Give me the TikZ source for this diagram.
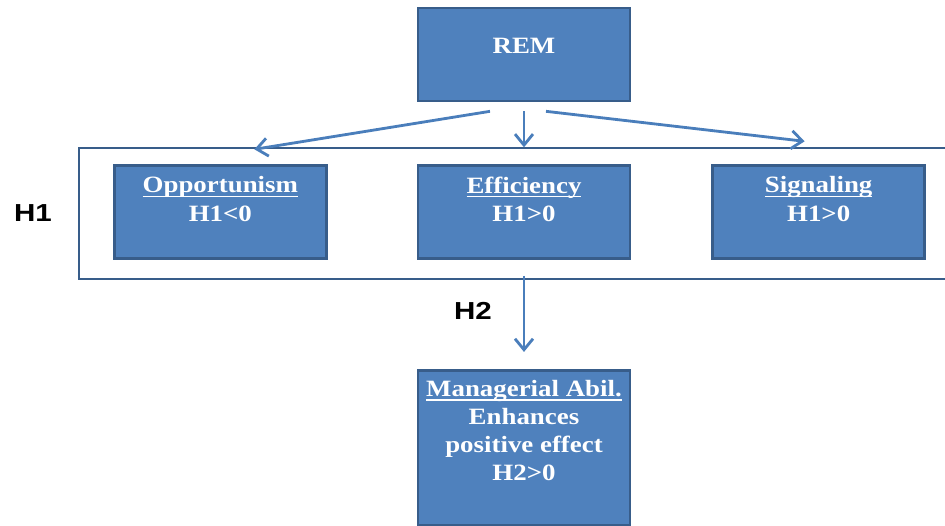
\documentclass[tikz,border=0pt]{standalone}
\usepackage{fontspec}
\usepackage{xcolor}
\definecolor{boxblue}{RGB}{79,129,189}
\definecolor{edgeblue}{RGB}{56,93,138}
\definecolor{arrowblue}{RGB}{74,126,187}
\newfontfamily\boxfont[FakeStretch=1.15]{Liberation Serif}
\newfontfamily\hypfont[FakeStretch=1.2]{Liberation Sans}
\newcommand{\undl}[1]{\setbox0\hbox{#1}\rlap{\rule[-2.4pt]{\wd0}{0.9pt}}\box0}
\usepackage{tikz}
\usetikzlibrary{arrows.meta}
\usetikzlibrary{positioning}

\begin{document}
\begin{tikzpicture}[box/.style={draw=edgeblue, line width=1.5pt, fill=boxblue, minimum width=4.24cm, minimum height=1.86cm, inner sep=0pt},
			txt/.style={text=white, font=\boxfont\bfseries\fontsize{13.3}{16}\selectfont, align=center, anchor=north, inner sep=0pt},
			hyp/.style={font=\hypfont\bfseries\fontsize{14}{16}\selectfont, inner sep=0pt},
			arr/.style={draw=arrowblue, line width=1.6pt, -{Straight Barb[length=2.2mm,width=3.6mm]}},
			]
			\clip (0,0) rectangle (18.9,-10.5);
			\node [draw=edgeblue, line width=1.3pt, minimum width=17.82cm, minimum height=2.62cm] (h1frame) at (10.49,-4.27) {};
			\node [box] (rem) at (10.48,-1.09) {};
			\node [box, below=1.24cm of rem] (eff) {};
			\node [box, left=1.78cm of eff] (opp) {};
			\node [box, right=1.6cm of eff] (sig) {};
			\node [box, below=2.18cm of eff, minimum height=3.1cm] (mgr) {};
			
			\node [txt] (remtxt) at ([yshift=-0.62cm]rem.north) {REM};
			\node [txt] (opptxt) at ([yshift=-0.24cm]opp.north) {\undl{Opportunism}\\H1<0};
			\node [txt] (efftxt) at ([yshift=-0.24cm]eff.north) {\undl{Efficiency}\\H1>0};
			\node [txt] (sigtxt) at ([yshift=-0.24cm]sig.north) {\undl{Signaling}\\H1>0};
			\node [txt] (mgrtxt) at ([yshift=-0.22cm]mgr.north) {\undl{Managerial Abil.}\\Enhances\\positive effect\\H2>0};
			
			\node [hyp] (h1) at (0.66,-4.26) {H1};
			\node [hyp] (h2) at (9.46,-6.22) {H2};
			
			\draw [arr] ([xshift=-0.68cm,yshift=-0.18cm]rem.south) -- ([xshift=0.68cm,yshift=0.3cm]opp.north);
			\draw [arr] ([yshift=-0.18cm]rem.south) -- ([yshift=0.34cm]eff.north);
			\draw [arr] ([xshift=0.44cm,yshift=-0.18cm]rem.south) -- ([xshift=-0.28cm,yshift=0.46cm]sig.north);
			\draw [arr] ([yshift=-0.32cm]eff.south) -- ([yshift=0.34cm]mgr.north);
		\end{tikzpicture}
\end{document}
